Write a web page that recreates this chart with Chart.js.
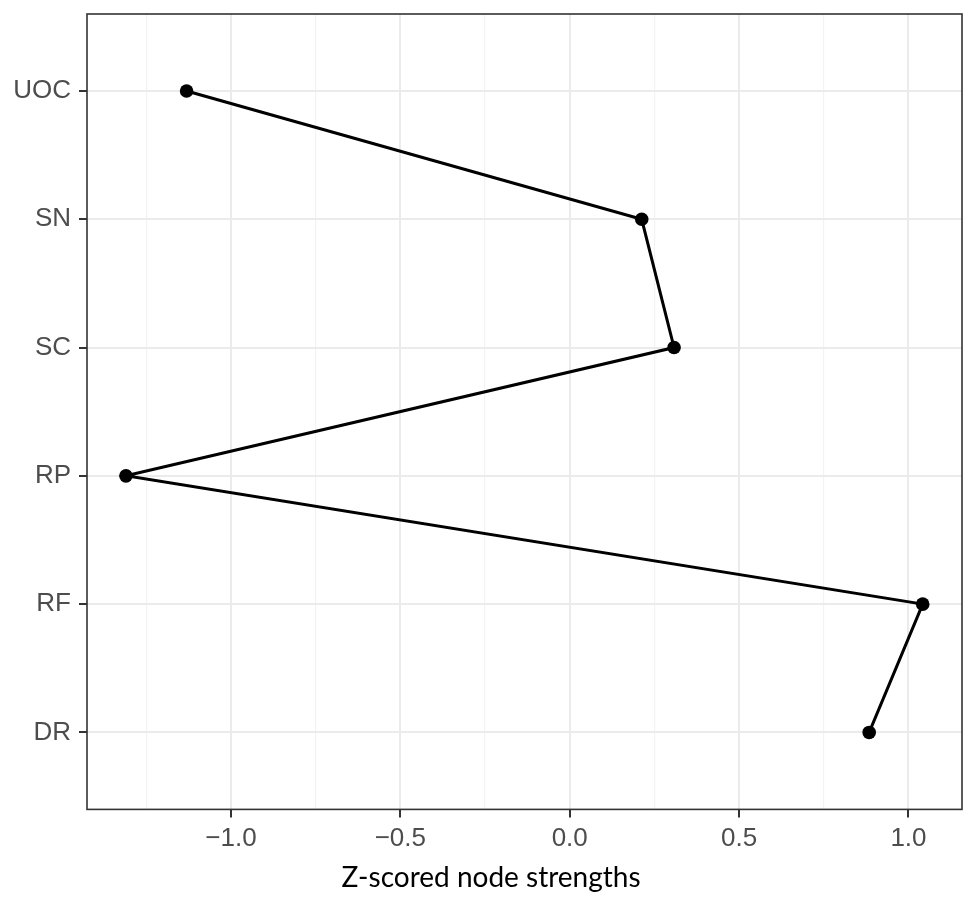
<!DOCTYPE html>
<html>
<head>
<meta charset="utf-8">
<script src="https://cdn.jsdelivr.net/npm/chart.js@4"></script>
<style>
  html, body { margin: 0; padding: 0; background: #fff; }
</style>
</head>
<body>
<canvas id="chart" width="974" height="905"></canvas>
<script>
// categories from bottom to top, as on the y axis
const categories = ['DR', 'RF', 'RP', 'SC', 'SN', 'UOC'];
const strengths = [0.884, 1.042, -1.310, 0.308, 0.2125, -1.131];
const xGridValues = [-1.25, -1.0, -0.75, -0.5, -0.25, 0, 0.25, 0.5, 0.75, 1.0];
const xTickValues = [-1.0, -0.5, 0, 0.5, 1.0];
const xTickLabels = ['\u22121.0', '\u22120.5', '0.0', '0.5', '1.0'];

const isMajor = v => xTickValues.some(t => Math.abs(t - v) < 1e-9);

// full panel rectangle like theme_bw, and title shifted a bit to the right
const panelBorder = {
  id: 'panelBorder',
  afterLayout(chart) {
    if (chart.titleBlock) {
      chart.titleBlock.left = 20;
      chart.titleBlock.right = chart.width - 12;
    }
  },
  afterDraw(chart) {
    const a = chart.chartArea;
    const c = chart.ctx;
    c.save();
    c.strokeStyle = '#333333';
    c.lineWidth = 1.6;
    c.strokeRect(a.left, a.top, a.right - a.left, a.bottom - a.top);
    c.restore();
  }
};

const ctx = document.getElementById('chart');
new Chart(ctx, {
  type: 'scatter',
  data: {
    datasets: [{
      data: categories.map((c, i) => ({ x: strengths[i], y: i + 1 })),
      showLine: true,
      borderColor: '#000',
      borderWidth: 3,
      pointRadius: 6.8,
      pointBackgroundColor: '#000',
      pointBorderWidth: 0
    }]
  },
  options: {
    responsive: false,
    animation: false,
    events: [],
    layout: { padding: { top: 14, right: 12, left: 0, bottom: 0 } },
    scales: {
      x: {
        type: 'linear',
        min: -1.425,
        max: 1.158,
        afterBuildTicks: s => { s.ticks = xGridValues.map(v => ({ value: v })); },
        afterFit: s => { s.height = 52; s.paddingLeft = 0; s.paddingRight = 0; },
        border: { display: false },
        grid: {
          color: c => isMajor(c.tick.value) ? '#ebebeb' : '#f3f3f3',
          lineWidth: c => isMajor(c.tick.value) ? 2 : 1.2,
          tickColor: c => isMajor(c.tick.value) ? '#333333' : 'rgba(0,0,0,0)',
          tickWidth: 2,
          tickLength: 8
        },
        ticks: {
          autoSkip: false,
          maxRotation: 0,
          padding: 6,
          color: '#4d4d4d',
          font: { family: '"Liberation Sans", Arial, sans-serif', size: 26 },
          callback: v => {
            const i = xTickValues.findIndex(t => Math.abs(t - v) < 1e-9);
            return i >= 0 ? xTickLabels[i] : '';
          }
        }
      },
      y: {
        type: 'linear',
        min: 0.4,
        max: 6.6,
        afterBuildTicks: s => { s.ticks = categories.map((c, i) => ({ value: i + 1 })); },
        afterFit: s => { s.width = 87; s.paddingTop = 0; s.paddingBottom = 0; },
        border: { display: false },
        grid: {
          color: '#ebebeb',
          lineWidth: 2,
          tickColor: '#333333',
          tickWidth: 2,
          tickLength: 8
        },
        ticks: {
          autoSkip: false,
          padding: 8,
          color: '#4d4d4d',
          font: { family: '"Liberation Sans", Arial, sans-serif', size: 26 },
          callback: v => categories[v - 1]
        }
      }
    },
    plugins: {
      legend: { display: false },
      tooltip: { enabled: false },
      title: {
        display: true,
        position: 'bottom',
        text: 'Z-scored node strengths',
        color: '#000',
        font: { family: 'Lato, "Open Sans", sans-serif', size: 28, weight: 'normal' },
        padding: { top: 0, bottom: 10 }
      }
    }
  },
  plugins: [panelBorder]
});
</script>
</body>
</html>
